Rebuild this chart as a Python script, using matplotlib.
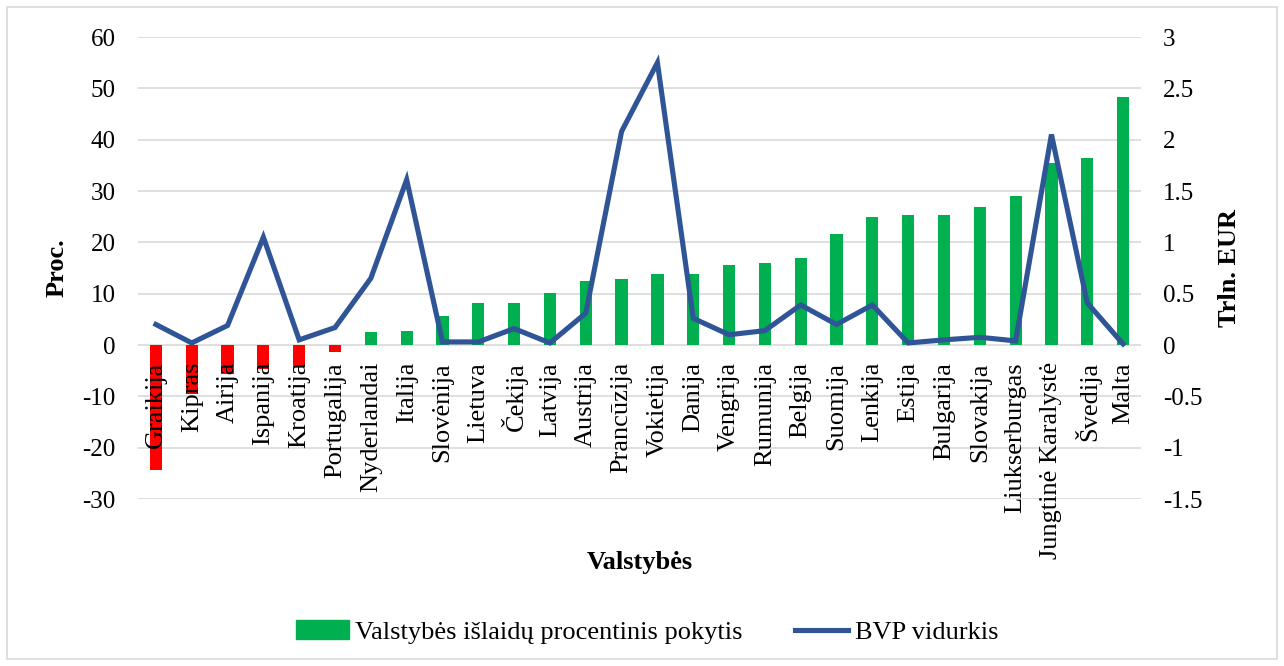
"""Valstybės išlaidų pokytis ir BVP vidurkis, bar + line on twin axes."""
import matplotlib
matplotlib.use("Agg")
import matplotlib.pyplot as plt
import matplotlib.transforms as mtransforms
from matplotlib.patches import Rectangle, Patch
from matplotlib.lines import Line2D

plt.rcParams["font.family"] = ["Liberation Serif", "DejaVu Serif"]
plt.rcParams["axes.unicode_minus"] = False

countries = ["Graikija", "Kipras", "Airija", "Ispanija", "Kroatija", "Portugalija",
             "Nyderlandai", "Italija", "Slovėnija", "Lietuva", "Čekija", "Latvija",
             "Austrija", "Prancūzija", "Vokietija", "Danija", "Vengrija", "Rumunija",
             "Belgija", "Suomija", "Lenkija", "Estija", "Bulgarija", "Slovakija",
             "Liukserburgas", "Jungtinė Karalystė", "Švedija", "Malta"]
spend_change = [-24.3, -9.6, -5.7, -4.7, -4.2, -1.4,
                2.6, 2.7, 5.7, 8.1, 8.2, 10.1,
                12.4, 12.9, 13.8, 13.8, 15.5, 15.9,
                17.0, 21.6, 25.0, 25.3, 25.3, 26.9,
                29.1, 35.4, 36.4, 48.3]
gdp_avg = [0.20, 0.02, 0.19, 1.05, 0.05, 0.17,
           0.65, 1.61, 0.03, 0.03, 0.16, 0.02,
           0.31, 2.08, 2.75, 0.26, 0.10, 0.14,
           0.39, 0.20, 0.39, 0.02, 0.05, 0.075,
           0.04, 2.05, 0.41, 0.01]
left_ticks = list(range(-30, 61, 10))
right_ticks = [-1.5, -1, -0.5, 0, 0.5, 1, 1.5, 2, 2.5, 3]

GREEN = "#00B050"
RED = "#FF0000"
BLUE = "#2F5597"
GRID = "#D9D9D9"
FS = 18      # tick numbers
FS_TXT = 19  # category names, titles, legend

fig = plt.figure(figsize=(12.84, 6.66), dpi=100)
ax = fig.add_axes([138 / 1284, 1 - 499 / 666, 1003 / 1284, 462 / 666])
ax2 = ax.twinx()

x = list(range(len(countries)))
colors = [RED if v < 0 else GREEN for v in spend_change]
ax.bar(x, spend_change, width=0.34, color=colors, zorder=2)
ax2.plot(x, gdp_avg, color=BLUE, lw=3.7, solid_joinstyle="miter", zorder=3)

ax.set_xlim(-0.5, len(countries) - 0.5)
ax.set_ylim(-30, 60)
ax2.set_ylim(-1.5, 3)
ax.set_yticks(left_ticks)
ax.set_yticklabels([str(t) for t in left_ticks])
ax2.set_yticks(right_ticks)
ax2.set_yticklabels([f"{t:g}" for t in right_ticks])
ax.set_axisbelow(True)
ax.grid(axis="y", color=GRID, lw=1.2)
ax.set_xticks([])
ax.tick_params(axis="y", length=0, pad=16, labelsize=FS)
ax2.tick_params(axis="y", length=0, pad=16, labelsize=FS)
for a in (ax, ax2):
    for s in a.spines.values():
        s.set_visible(False)

# category labels hang from the zero line, as in the spreadsheet chart
lab_tr = mtransforms.offset_copy(ax.transData, fig=fig, y=-17, units="dots")
for i, name in enumerate(countries):
    ax.text(i, 0, name, rotation=90, ha="center", va="top", fontsize=FS_TXT,
            transform=lab_tr, zorder=5)

fig.text(57 / 1284, 1 - 268 / 666, "Proc.", rotation=90, ha="center", va="center",
         fontsize=FS_TXT, fontweight="bold")
fig.text(1230 / 1284, 1 - 268 / 666, "Trln. EUR", rotation=90, ha="center", va="center",
         fontsize=FS_TXT, fontweight="bold")
fig.text(640 / 1284, 1 - 562 / 666, "Valstybės", ha="center", va="center",
         fontsize=FS_TXT, fontweight="bold")

handles = [Patch(color=GREEN), Line2D([0], [0], color=BLUE, lw=3.7)]
fig.legend(handles, ["Valstybės išlaidų procentinis pokytis", "BVP vidurkis"],
           loc="center", bbox_to_anchor=(647 / 1284, 1 - 632 / 666), ncol=2,
           frameon=False, fontsize=FS_TXT, handlelength=2.0, handletextpad=0.25,
           columnspacing=2.0)

fig.patches.append(Rectangle((7 / 1284, 7 / 666), 1270 / 1284, 652 / 666,
                             transform=fig.transFigure, fill=False,
                             edgecolor=GRID, lw=1.2))

fig.savefig("out.png", dpi=100)
